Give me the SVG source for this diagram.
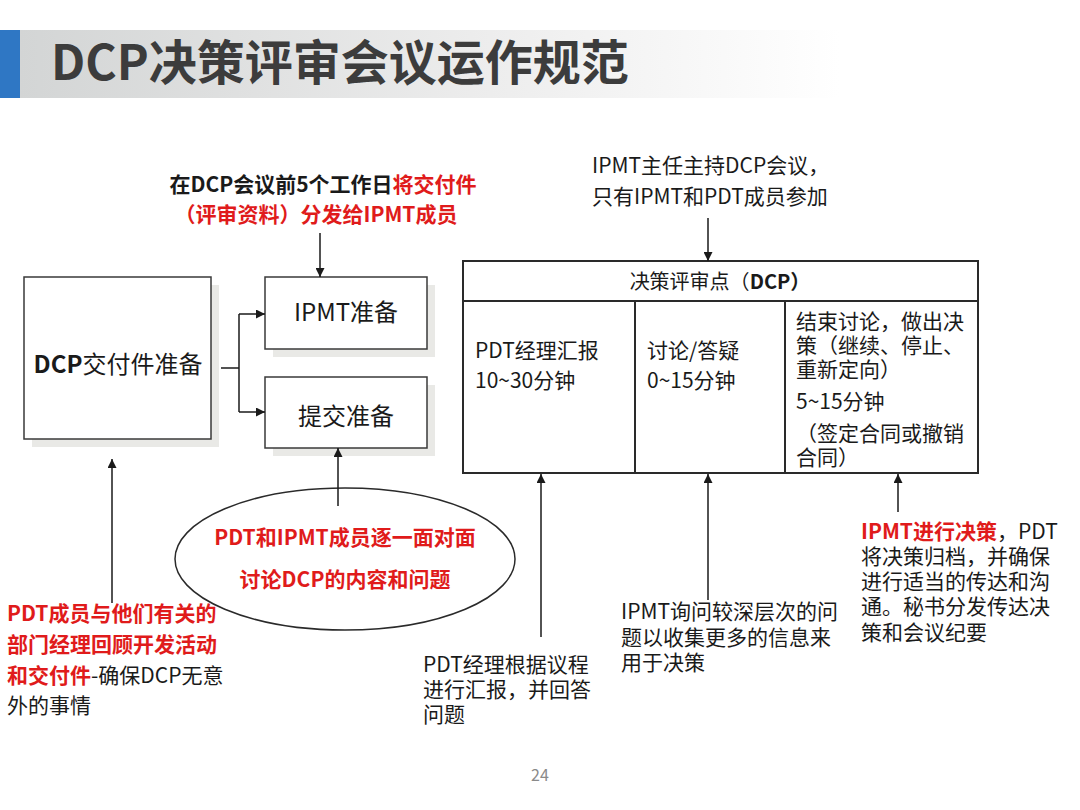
<svg xmlns="http://www.w3.org/2000/svg" width="1080" height="810" viewBox="0 0 1080 810">
<defs>
<linearGradient id="tg" x1="0" y1="0" x2="1" y2="0">
<stop offset="0" stop-color="#d3d5d5"/>
<stop offset="0.55" stop-color="#ececec"/>
<stop offset="1" stop-color="#ffffff"/>
</linearGradient>
<marker id="ah" viewBox="0 0 10 10" refX="10" refY="5" markerWidth="9" markerHeight="9" markerUnits="userSpaceOnUse" orient="auto">
<path d="M0,0 L10,5 L0,10 z" fill="#1a1a1a"/>
</marker>
<style>
text{font-family:"Noto Sans CJK SC","Noto Sans",sans-serif;fill:#1a1a1a}
.b{font-weight:bold}
.r{fill:#e01b1b;font-weight:bold}
.box{fill:#fff;stroke:#3a3a3a;stroke-width:1.5}
.sh{fill:#e9e9e6}
.tb{fill:none;stroke:#2a2a2a;stroke-width:2}
.ln{stroke:#1a1a1a;stroke-width:1.5;fill:none}
.t20{font-size:20px}
.t21{font-size:21px}
.t24{font-size:24px}
</style>
</defs>
<rect width="1080" height="810" fill="#fff"/>
<g id="title">
<rect x="20" y="30" width="820" height="68" fill="url(#tg)"/>
<rect x="0" y="30" width="20" height="68" fill="#2f77c4"/>
<text x="51" y="80" class="b" style="font-size:48px;fill:#3c3c3c">DCP决策评审会议运作规范</text>
</g>
<g id="dcp-prep">
<rect x="32" y="285" width="187" height="162" class="sh"/>
<rect x="24" y="277" width="187" height="162" class="box"/>
<text x="118" y="373" text-anchor="middle" class="t24"><tspan class="b">DCP</tspan>交付件准备</text>
</g>
<g id="ipmt-prep">
<rect x="273" y="285" width="162" height="72" class="sh"/>
<rect x="265" y="277" width="162" height="72" class="box"/>
<text x="346" y="321" text-anchor="middle" class="t24">IPMT准备</text>
</g>
<g id="submit-prep">
<rect x="273" y="385" width="162" height="71" class="sh"/>
<rect x="265" y="377" width="162" height="71" class="box"/>
<text x="346" y="425" text-anchor="middle" class="t24">提交准备</text>
</g>
<g id="dcp-table">
<rect x="463" y="261" width="515" height="212" class="tb"/>
<line x1="463" y1="301" x2="978" y2="301" class="tb"/>
<line x1="635" y1="301" x2="635" y2="473" class="tb"/>
<line x1="785" y1="301" x2="785" y2="473" class="tb"/>
<text x="720" y="289" text-anchor="middle" class="t20">决策评审点（<tspan class="b">DCP）</tspan></text>
<text x="475" y="358" class="t21">PDT经理汇报</text>
<text x="475" y="388" class="t21">10~30分钟</text>
<text x="647" y="358" class="t21">讨论/答疑</text>
<text x="647" y="388" class="t21">0~15分钟</text>
<text x="796" y="329" class="t21">结束讨论，做出决</text>
<text x="796" y="353" class="t21">策（继续、停止、</text>
<text x="796" y="377" class="t21">重新定向）</text>
<text x="796" y="409" class="t21">5~15分钟</text>
<text x="796" y="441" class="t21">（签定合同或撤销</text>
<text x="796" y="465" class="t21">合同）</text>
</g>
<g id="discussion">
<ellipse cx="345" cy="559" rx="170" ry="71" fill="#fff" stroke="#2a2a2a" stroke-width="1.5"/>
<text x="345" y="545" text-anchor="middle" class="t21 r">PDT和IPMT成员逐一面对面</text>
<text x="345" y="587" text-anchor="middle" class="t21 r">讨论DCP的内容和问题</text>
</g>
<g id="note-distribute">
<text x="323" y="192" text-anchor="middle" class="t21 b">在DCP会议前5个工作日<tspan class="r">将交付件</tspan></text>
<text x="316" y="222" text-anchor="middle" class="t21 r">（评审资料）分发给IPMT成员</text>
</g>
<g id="note-chair">
<text x="592" y="173" class="t21">IPMT主任主持DCP会议，</text>
<text x="592" y="204" class="t21">只有IPMT和PDT成员参加</text>
</g>
<g id="note-pdt">
<text x="7" y="621" class="t21 r">PDT成员与他们有关的</text>
<text x="7" y="652" class="t21 r">部门经理回顾开发活动</text>
<text x="7" y="683" class="t21"><tspan class="r">和交付件</tspan>-确保DCP无意</text>
<text x="7" y="713" class="t21">外的事情</text>
</g>
<g id="note-report">
<text x="423" y="672" class="t21">PDT经理根据议程</text>
<text x="423" y="697" class="t21">进行汇报，并回答</text>
<text x="423" y="722" class="t21">问题</text>
</g>
<g id="note-ask">
<text x="621" y="619" class="t21">IPMT询问较深层次的问</text>
<text x="621" y="645" class="t21">题以收集更多的信息来</text>
<text x="621" y="670" class="t21">用于决策</text>
</g>
<g id="note-decide">
<text x="861" y="539" class="t21"><tspan class="r">IPMT进行决策</tspan>，PDT</text>
<text x="861" y="564" class="t21">将决策归档，并确保</text>
<text x="861" y="589" class="t21">进行适当的传达和沟</text>
<text x="861" y="614" class="t21">通。秘书分发传达决</text>
<text x="861" y="640" class="t21">策和会议纪要</text>
</g>
<g id="connectors">
<line x1="221" y1="368" x2="239" y2="368" class="ln"/>
<line x1="239" y1="314" x2="239" y2="412" class="ln"/>
<line x1="239" y1="314" x2="265" y2="314" class="ln" marker-end="url(#ah)"/>
<line x1="239" y1="412" x2="265" y2="412" class="ln" marker-end="url(#ah)"/>
<line x1="320" y1="233" x2="320" y2="277" class="ln" marker-end="url(#ah)"/>
<line x1="708" y1="218" x2="708" y2="261" class="ln" marker-end="url(#ah)"/>
<line x1="338" y1="506" x2="338" y2="448" class="ln" marker-end="url(#ah)"/>
<line x1="112" y1="603" x2="112" y2="459" class="ln" marker-end="url(#ah)"/>
<line x1="541" y1="637" x2="541" y2="474" class="ln" marker-end="url(#ah)"/>
<line x1="708" y1="600" x2="708" y2="474" class="ln" marker-end="url(#ah)"/>
<line x1="898" y1="512" x2="898" y2="474" class="ln" marker-end="url(#ah)"/>
</g>
<text x="540" y="781" text-anchor="middle" style="font-size:16px;fill:#8a8a8a">24</text>
</svg>
